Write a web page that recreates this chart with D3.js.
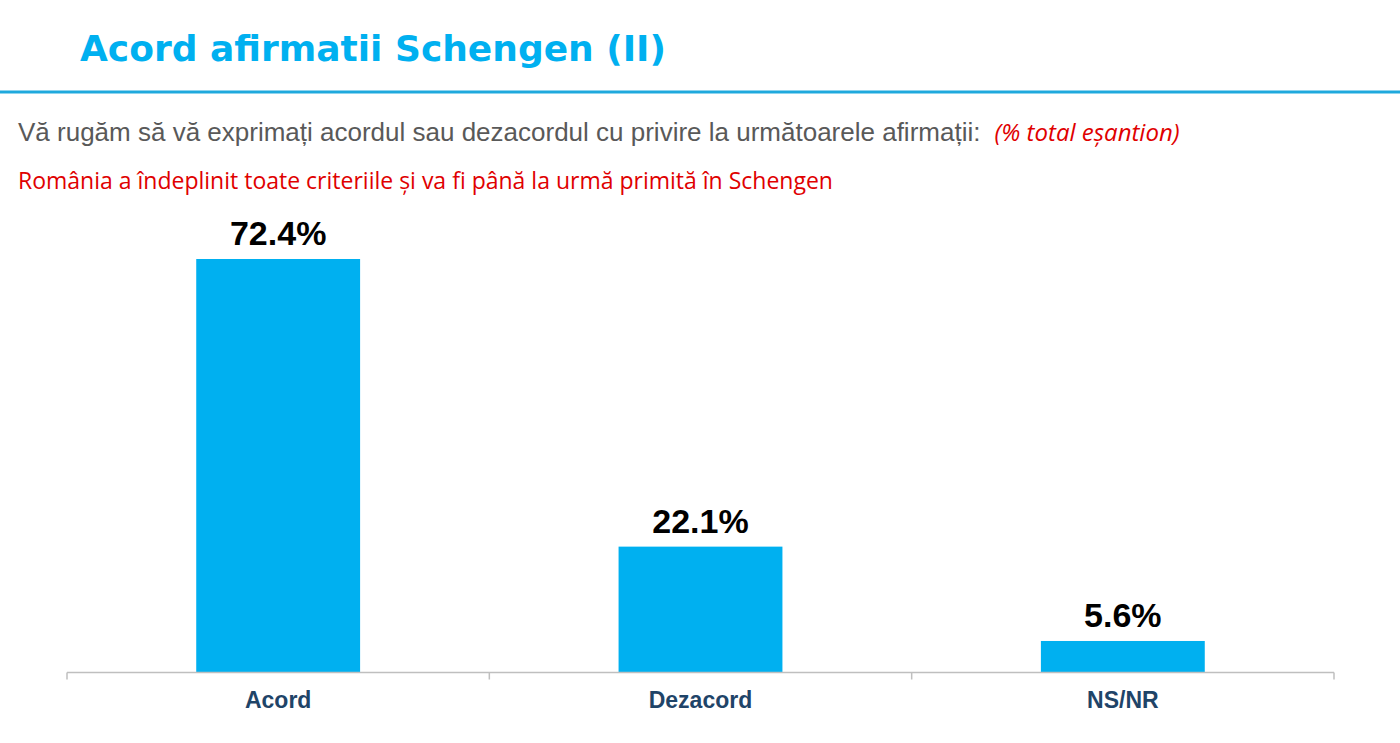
<!DOCTYPE html>
<html>
<head>
<meta charset="utf-8">
<title>Acord afirmatii Schengen (II)</title>
<style>
  body { margin: 0; background: #fff; }
  svg { display: block; }
</style>
<script src="https://d3js.org/d3.v7.min.js"></script>
</head>
<body>
<svg width="1400" height="743"></svg>
<script>
var categories = ["Acord", "Dezacord", "NS/NR"];
var values = [72.4, 22.1, 5.6];
var valueLabels = ["72.4%", "22.1%", "5.6%"];

var svg = d3.select("svg"),
    margin = {top: 259, right: 66, bottom: 71, left: 67},
    width = +svg.attr("width") - margin.left - margin.right,
    height = +svg.attr("height") - margin.top - margin.bottom;

// header
svg.append("text")
    .attr("x", 80).attr("y", 61)
    .attr("font-family", "DejaVu Sans, Verdana, sans-serif")
    .attr("font-weight", "bold")
    .attr("font-size", 36)
    .attr("fill", "#00B0F0")
    .text("Acord afirmatii Schengen (II)");

svg.append("line")
    .attr("x1", 0).attr("x2", 1400)
    .attr("y1", 92).attr("y2", 92)
    .attr("stroke", "#1FA9DD")
    .attr("stroke-width", 3);

var sub = svg.append("text")
    .attr("x", 18).attr("y", 141);
sub.append("tspan")
    .attr("font-family", "Liberation Sans, Arial, sans-serif")
    .attr("font-size", 26)
    .attr("fill", "#595959")
    .text("Vă rugăm să vă exprimați acordul sau dezacordul cu privire la următoarele afirmații:");
sub.append("tspan")
    .attr("dx", 14)
    .attr("font-family", "Open Sans, sans-serif")
    .attr("font-style", "italic")
    .attr("font-size", 24)
    .attr("fill", "#E00000")
    .text("(% total eșantion)");

svg.append("text")
    .attr("x", 18).attr("y", 189)
    .attr("font-family", "Open Sans, sans-serif")
    .attr("font-size", 23)
    .attr("fill", "#E00000")
    .text("România a îndeplinit toate criteriile și va fi până la urmă primită în Schengen");

var g = svg.append("g").attr("transform", `translate(${margin.left},${margin.top})`);

var xScale = d3.scaleBand()
    .domain(categories)
    .range([0, width])
    .paddingInner(0.612)
    .paddingOuter(0.306);

var yScale = d3.scaleLinear()
    .domain([0, 72.4])
    .range([height + 1, 0]);

g.selectAll(".bar")
    .data(values)
    .enter().append("rect")
    .attr("class", "bar")
    .attr("x", (d, i) => xScale(categories[i]))
    .attr("y", d => yScale(d))
    .attr("width", xScale.bandwidth())
    .attr("height", d => yScale(0) - yScale(d))
    .attr("fill", "#00B0F0");

g.selectAll(".val")
    .data(values)
    .enter().append("text")
    .attr("class", "val")
    .attr("x", (d, i) => xScale(categories[i]) + xScale.bandwidth() / 2)
    .attr("y", d => yScale(d) - 14)
    .attr("text-anchor", "middle")
    .attr("font-family", "Liberation Sans, Arial, sans-serif")
    .attr("font-weight", "bold")
    .attr("font-size", 34)
    .attr("fill", "#000")
    .text((d, i) => valueLabels[i]);

// axis with ticks between categories
var axis = g.append("g").attr("transform", `translate(0,${height + 0.5})`);
axis.append("line")
    .attr("x1", 0).attr("x2", width)
    .attr("stroke", "#BFBFBF").attr("stroke-width", 1.5);
var step = xScale.step();
var bounds = d3.range(categories.length + 1).map(i => i === 0 ? 0 : (i === categories.length ? width : xScale(categories[i - 1]) + xScale.bandwidth() + step * xScale.paddingInner() / 2));
axis.selectAll(".tick")
    .data(bounds)
    .enter().append("line")
    .attr("x1", d => d).attr("x2", d => d)
    .attr("y1", 0).attr("y2", 7)
    .attr("stroke", "#BFBFBF").attr("stroke-width", 1.5);

axis.selectAll(".cat")
    .data(categories)
    .enter().append("text")
    .attr("x", d => xScale(d) + xScale.bandwidth() / 2)
    .attr("y", 35)
    .attr("text-anchor", "middle")
    .attr("font-family", "Liberation Sans, Arial, sans-serif")
    .attr("font-weight", "bold")
    .attr("font-size", 23)
    .attr("fill", "#1F4468")
    .text(d => d);
</script>
</body>
</html>
